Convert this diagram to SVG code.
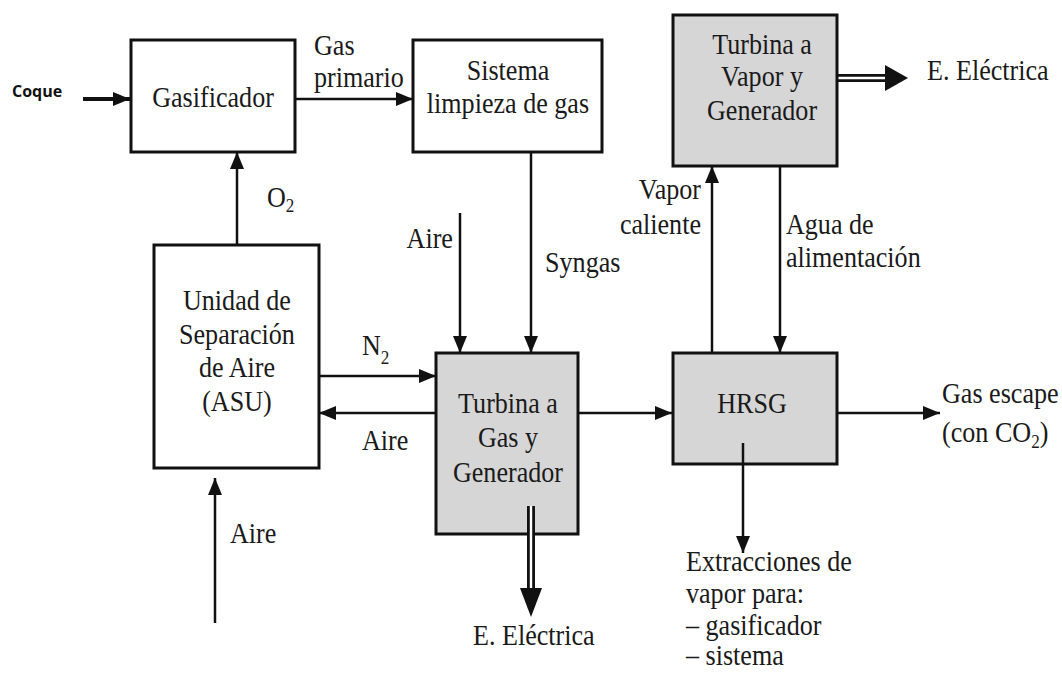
<svg xmlns="http://www.w3.org/2000/svg" width="1062" height="673" viewBox="0 0 1062 673">
<style>
.box{fill:#fff;stroke:#111;stroke-width:3}
.gray{fill:#d6d6d6}
.t{font-family:"Liberation Serif","Times New Roman",serif;font-size:29px;fill:#1a1a1a;transform:scale(0.9,1)}
.m{text-anchor:middle}
.e{text-anchor:end}
.c{fill:none;stroke:#111;stroke-width:2.5}
.dbl{fill:none;stroke:#111;stroke-width:8}
.gap{fill:none;stroke:#fff;stroke-width:2.4}
.sans{font-family:"Open Sans","Liberation Sans",sans-serif;font-size:16px;font-weight:bold;fill:#111}
</style>
<defs>
<marker id="ah" markerUnits="userSpaceOnUse" markerWidth="18" markerHeight="16" refX="17" refY="7" orient="auto">
<path d="M0,0 L17,7 L0,14 Z" fill="#111"/>
</marker>
</defs>
<rect width="1062" height="673" fill="#fff"/>

<g id="connectors">
<line class="c" x1="83" y1="99" x2="130" y2="99" style="stroke-width:4" marker-end="url(#ah)"/>
<line class="c" x1="295" y1="99" x2="413" y2="99" marker-end="url(#ah)"/>
<line class="c" x1="237" y1="245" x2="237" y2="152" marker-end="url(#ah)"/>
<line class="c" x1="531" y1="152" x2="531" y2="353" marker-end="url(#ah)"/>
<line class="c" x1="460" y1="213" x2="460" y2="353" marker-end="url(#ah)"/>
<line class="c" x1="319" y1="376" x2="436" y2="376" marker-end="url(#ah)"/>
<line class="c" x1="436" y1="413" x2="319" y2="413" marker-end="url(#ah)"/>
<line class="c" x1="215" y1="623" x2="215" y2="478" marker-end="url(#ah)"/>
<line class="c" x1="578" y1="413" x2="672" y2="413" marker-end="url(#ah)"/>
<line class="c" x1="837" y1="413" x2="940" y2="413" marker-end="url(#ah)"/>
<line class="c" x1="712" y1="353" x2="712" y2="166" marker-end="url(#ah)"/>
<line class="c" x1="780" y1="166" x2="780" y2="353" marker-end="url(#ah)"/>
<line class="dbl" x1="837" y1="78" x2="887" y2="78"/>
<line class="gap" x1="837" y1="78" x2="887" y2="78"/>
<path d="M885,65 L908,78 L885,91 Z" fill="#111"/>
</g>

<g id="gasificador">
<rect class="box" x="131" y="40" width="164" height="112"/>
<text class="t m" x="236.7" y="107">Gasificador</text>
</g>

<g id="sistema">
<rect class="box" x="413" y="40" width="189" height="112"/>
<text class="t m" x="564.4" y="80">Sistema</text>
<text class="t m" x="564.4" y="113">limpieza de gas</text>
</g>

<g id="turbina-vapor">
<rect class="box gray" x="673" y="15" width="164" height="151"/>
<text class="t m" x="846.7" y="54">Turbina a</text>
<text class="t m" x="846.7" y="86">Vapor y</text>
<text class="t m" x="846.7" y="120">Generador</text>
</g>

<g id="asu">
<rect class="box" x="154" y="245" width="165" height="223"/>
<text class="t m" x="263.3" y="310">Unidad de</text>
<text class="t m" x="263.3" y="344">Separación</text>
<text class="t m" x="263.3" y="377">de Aire</text>
<text class="t m" x="263.3" y="411">(ASU)</text>
</g>

<g id="turbina-gas">
<rect class="box gray" x="436" y="353" width="142" height="181"/>
<text class="t m" x="564.4" y="413">Turbina a</text>
<text class="t m" x="564.4" y="447">Gas y</text>
<text class="t m" x="564.4" y="482">Generador</text>
</g>

<g id="hrsg">
<rect class="box gray" x="673" y="353" width="164" height="111"/>
<text class="t m" x="835.6" y="413">HRSG</text>
</g>

<g id="connectors-front">
<line class="c" x1="743" y1="443" x2="743" y2="553" marker-end="url(#ah)"/>
<line class="dbl" x1="531" y1="506" x2="531" y2="590"/>
<line class="gap" x1="531" y1="506" x2="531" y2="590"/>
<path d="M520,588 L531,617 L542,588 Z" fill="#111"/>
</g>

<g id="labels">
<text class="sans" x="12" y="97">Coque</text>
<text class="t" x="348.9" y="55">Gas</text>
<text class="t" x="348.9" y="87">primario</text>
<text class="t" x="296.7" y="207">O<tspan font-size="19" dy="5">2</tspan></text>
<text class="t e" x="503.3" y="248">Aire</text>
<text class="t" x="605.6" y="272">Syngas</text>
<text class="t" x="402.2" y="355">N<tspan font-size="19" dy="9">2</tspan></text>
<text class="t" x="402.2" y="450">Aire</text>
<text class="t" x="255.6" y="543">Aire</text>
<text class="t e" x="778.9" y="199">Vapor</text>
<text class="t e" x="778.9" y="234">caliente</text>
<text class="t" x="873.3" y="234">Agua de</text>
<text class="t" x="873.3" y="267">alimentación</text>
<text class="t" x="1030" y="80">E. Eléctrica</text>
<text class="t" x="1046.7" y="403">Gas escape</text>
<text class="t" x="1046.7" y="442">(con CO<tspan font-size="19" dy="6">2</tspan><tspan dy="-6">)</tspan></text>
<text class="t" x="525.6" y="645">E. Eléctrica</text>
<text class="t" x="762.2" y="571">Extracciones de</text>
<text class="t" x="762.2" y="603">vapor para:</text>
<text class="t" x="762.2" y="635">– gasificador</text>
<text class="t" x="762.2" y="665">– sistema</text>
</g>
</svg>
